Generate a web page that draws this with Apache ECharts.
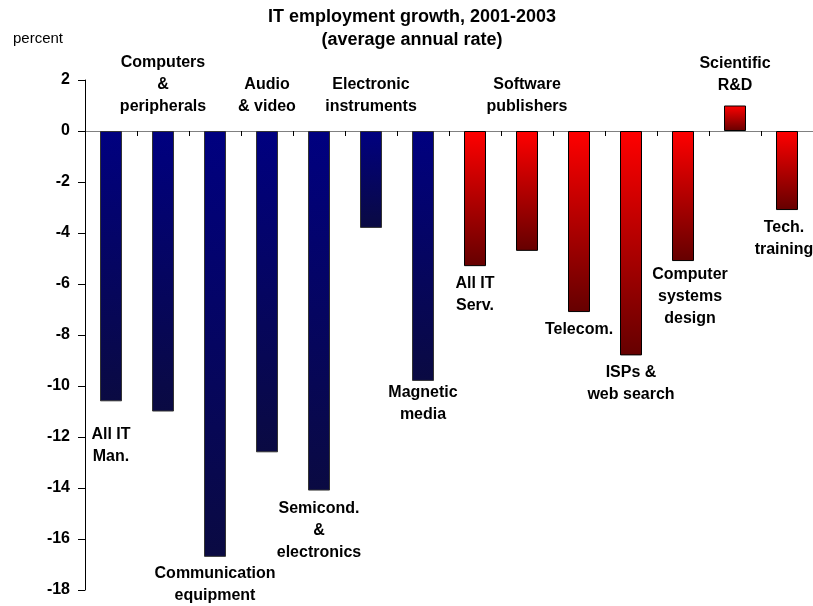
<!DOCTYPE html>
<html>
<head>
<meta charset="utf-8">
<script src="https://cdn.jsdelivr.net/npm/echarts@6/dist/echarts.min.js"></script>
<style>html,body{margin:0;padding:0;background:#fff}#c{width:813px;height:606px}</style>
</head>
<body>
<div id="c"></div>
<script>
// ---- data ----
const categories = ['All IT\nMan.', 'Computers\n&\nperipherals', 'Communication\nequipment', 'Audio\n& video',
  'Semicond.\n&\nelectronics', 'Electronic\ninstruments', 'Magnetic\nmedia', 'All IT\nServ.',
  'Software\npublishers', 'Telecom.', 'ISPs &\nweb search', 'Computer\nsystems\ndesign', 'Scientific\nR&D', 'Tech.\ntraining'];
const values = [-10.6, -11.0, -16.7, -12.6, -14.1, -3.8, -9.8, -5.3, -4.7, -7.1, -8.8, -5.1, 1.0, -3.1];
const sector = ['man', 'man', 'man', 'man', 'man', 'man', 'man', 'srv', 'srv', 'srv', 'srv', 'srv', 'srv', 'srv'];
const labelSide = ['below', 'above', 'below', 'above', 'below', 'above', 'below', 'below', 'above', 'below', 'below', 'below', 'above', 'below'];
const yTicks = { min: -18, max: 2, interval: 2 };

// ---- styling helpers ----
const grad = (top, bottom) => new echarts.graphic.LinearGradient(0, 0, 0, 1, [
  { offset: 0, color: top }, { offset: 1, color: bottom }]);
const labelDist = [22, 13, 6, 13, 7, 13, 1, 6, 13, 7, 6, 3, 9, 7];
const labelOffX = [0, 0, 0, 0, 0, 0, 0, 0, 0, 0, 0, 7, 0, -3];

const data = values.map((v, i) => ({
  value: v,
  itemStyle: {
    color: sector[i] === 'man' ? grad('#000080', '#0a0a42') : grad('#ff0000', '#650000'),
    borderColor: sector[i] === 'man' ? '#333' : '#000',
    borderWidth: 1
  },
  label: {
    show: true,
    formatter: categories[i],
    position: labelSide[i] === 'above' ? 'top' : 'bottom',
    distance: labelDist[i],
    offset: [labelOffX[i], 0]
  }
}));

const chart = echarts.init(document.getElementById('c'), null, { renderer: 'canvas' });
chart.setOption({
  animation: false,
  backgroundColor: '#fff',
  grid: { left: 85, right: 0, top: 80, bottom: 16, containLabel: false },
  graphic: [
    { type: 'text', x: 412, y: 6, style: { text: 'IT employment growth, 2001-2003\n(average annual rate)', textAlign: 'center',
      font: 'bold 18px "Liberation Sans", Arial, sans-serif', lineHeight: 23, fill: '#000' } },
    { type: 'text', x: 13, y: 31, style: { text: 'percent', font: '15px "Liberation Sans", Arial, sans-serif', fill: '#000' } }
  ],
  xAxis: {
    type: 'category',
    data: categories,
    axisLine: { onZero: true, lineStyle: { color: '#808080', width: 1 } },
    axisTick: { show: true, interval: 0, alignWithLabel: false, length: 5, lineStyle: { color: '#000' } },
    axisLabel: { show: false, interval: 0 },
    splitLine: { show: false }
  },
  yAxis: {
    type: 'value',
    min: yTicks.min, max: yTicks.max, interval: yTicks.interval,
    axisLine: { show: true, lineStyle: { color: '#000', width: 1 } },
    axisTick: { show: true, length: 7, lineStyle: { color: '#000' } },
    axisLabel: { margin: 15, color: '#000', fontWeight: 'bold', fontSize: 16, fontFamily: '"Liberation Sans", Arial, sans-serif' },
    splitLine: { show: false }
  },
  series: [{
    type: 'bar',
    data: data,
    barWidth: 22,
    label: {
      color: '#000', fontWeight: 'bold', fontSize: 16, lineHeight: 22,
      fontFamily: '"Liberation Sans", Arial, sans-serif', align: 'center'
    }
  }]
});
</script>
</body>
</html>
